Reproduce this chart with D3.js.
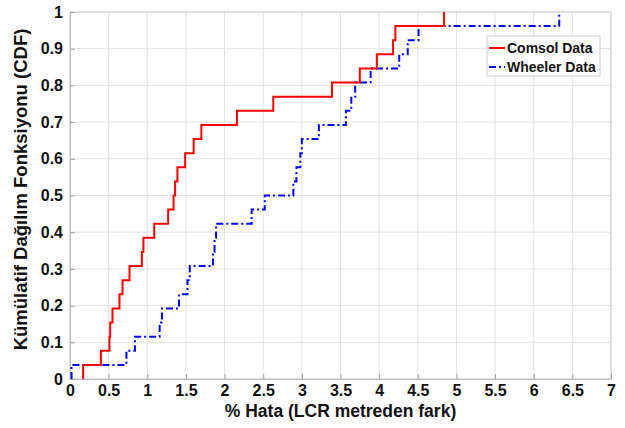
<!DOCTYPE html>
<html>
<head>
<meta charset="utf-8">
<script src="https://cdn.jsdelivr.net/npm/d3@7/dist/d3.min.js"></script>
<style>
  body { margin: 0; background: #fff; }
  text { font-family: Arial, "Liberation Sans", sans-serif; font-weight: bold; fill: #111; }
</style>
</head>
<body>
<script>
// sample values (% error), one per step of the ECDF
const comsol = [0.17, 0.40, 0.51, 0.52, 0.55, 0.64, 0.68, 0.77, 0.93, 0.95,
                1.09, 1.27, 1.34, 1.36, 1.39, 1.49, 1.60, 1.70, 2.16, 2.63,
                3.39, 3.75, 3.97, 4.18, 4.21, 4.84];
const wheeler = [0.02, 0.73, 0.84, 1.16, 1.19, 1.41, 1.52, 1.55, 1.85, 1.87,
                 1.89, 2.35, 2.52, 2.89, 2.93, 2.98, 3.00, 3.22, 3.57, 3.64,
                 3.69, 3.89, 4.26, 4.37, 4.51, 6.33];
const seriesNames = ['Comsol Data', 'Wheeler Data'];
const xTicks = d3.range(0, 7.001, 0.5);
const yTicks = d3.range(0, 1.0001, 0.1);

const W = 625, H = 428;
const margin = { top: 12, right: 14, bottom: 49, left: 70 };
const width = W - margin.left - margin.right;
const height = H - margin.top - margin.bottom;

const x = d3.scaleLinear().domain([0, 7]).range([0, width]);
const y = d3.scaleLinear().domain([0, 1]).range([height, 0]);
const fmt = d => String(+d.toFixed(1));

const svg = d3.select('body').append('svg')
  .attr('width', W)
  .attr('height', H);

const g = svg.append('g')
  .attr('transform', `translate(${margin.left},${margin.top})`);

// grid
g.append('g').selectAll('line')
  .data(xTicks)
  .enter().append('line')
  .attr('x1', d => x(d)).attr('x2', d => x(d))
  .attr('y1', 0).attr('y2', height)
  .attr('stroke', '#e3e3e3');
g.append('g').selectAll('line')
  .data(yTicks)
  .enter().append('line')
  .attr('x1', 0).attr('x2', width)
  .attr('y1', d => y(d)).attr('y2', d => y(d))
  .attr('stroke', '#e3e3e3');

// box
g.append('rect')
  .attr('width', width).attr('height', height)
  .attr('fill', 'none').attr('stroke', '#cfcfcf');

// axes (ticks inward, like matlab)
const xAxis = d3.axisBottom(x).tickValues(xTicks).tickFormat(fmt)
  .tickSizeInner(-5).tickSizeOuter(0).tickPadding(6);
const yAxis = d3.axisLeft(y).tickValues(yTicks).tickFormat(fmt)
  .tickSizeInner(-5).tickSizeOuter(0).tickPadding(7);

const gx = g.append('g')
  .attr('transform', `translate(0,${height})`)
  .call(xAxis);
const gy = g.append('g').call(yAxis);
[gx, gy].forEach(a => {
  a.select('.domain').attr('stroke', '#bdbdbd');
  a.selectAll('.tick line').attr('stroke', '#a0a0a0');
  a.selectAll('.tick text')
    .attr('fill', '#111')
    .style('font-size', '16px')
    .style('font-family', 'Arial, "Liberation Sans", sans-serif')
    .style('font-weight', 'bold');
});

// ECDF stairs
function cdfPoints(vals) {
  const s = vals.slice().sort(d3.ascending);
  const n = s.length;
  const pts = [[s[0], 0]];
  s.forEach((v, i) => pts.push([v, (i + 1) / n]));
  return pts;
}
const line = d3.line()
  .x(d => x(d[0]))
  .y(d => y(d[1]))
  .curve(d3.curveStepAfter);

const plot = g.append('g');
plot.append('path')
  .datum(cdfPoints(wheeler))
  .attr('d', line)
  .attr('fill', 'none')
  .attr('stroke', '#0000ff')
  .attr('stroke-width', 2)
  .attr('stroke-dasharray', '7,3,2,3');
plot.append('path')
  .datum(cdfPoints(comsol))
  .attr('d', line)
  .attr('fill', 'none')
  .attr('stroke', '#ff0000')
  .attr('stroke-width', 2);

// axis titles
svg.append('text')
  .attr('x', margin.left + width / 2)
  .attr('y', 417)
  .attr('text-anchor', 'middle')
  .style('font-size', '17.5px')
  .text('% Hata (LCR metreden fark)');
svg.append('text')
  .attr('transform', `translate(27,${margin.top + height / 2 - 6}) rotate(-90)`)
  .attr('text-anchor', 'middle')
  .style('font-size', '18.5px')
  .text('Kümülatif Dağılım Fonksiyonu (CDF)');

// legend
const lg = svg.append('g').attr('transform', 'translate(487,36)');
lg.append('rect')
  .attr('width', 113).attr('height', 40)
  .attr('fill', '#fff').attr('stroke', '#cfcfcf');
const colors = ['#ff0000', '#0000ff'];
const dashes = [null, '7,3,2,3'];
seriesNames.forEach((name, i) => {
  const row = lg.append('g').attr('transform', `translate(0,${12 + i * 19})`);
  row.append('line')
    .attr('x1', 2).attr('x2', 18)
    .attr('stroke', colors[i]).attr('stroke-width', 2)
    .attr('stroke-dasharray', dashes[i]);
  row.append('text')
    .attr('x', 20).attr('dy', '0.35em')
    .style('font-size', '14px')
    .text(name);
});
</script>
</body>
</html>
